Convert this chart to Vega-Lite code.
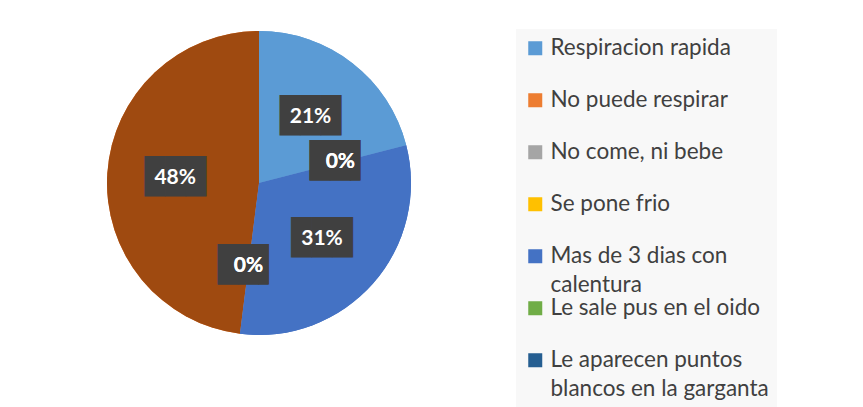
{
  "$schema": "https://vega.github.io/schema/vega-lite/v6.json",
  "width": 518,
  "height": 366,
  "padding": 0,
  "background": "white",
  "config": {"style": {"guide-label": {"lineHeight": 29}}},
  "data": {
    "values": [
      {"causa": "Respiracion rapida", "pct": 0.21, "orden": 1},
      {"causa": "No puede  respirar", "pct": 0.48, "orden": 7},
      {"causa": "No come, ni bebe", "pct": 0, "orden": 2},
      {"causa": "Se pone frio", "pct": 0, "orden": 3},
      {"causa": "Mas de 3 dias con calentura", "pct": 0.31, "orden": 4},
      {"causa": "Le sale pus en el oido", "pct": 0, "orden": 5},
      {"causa": "Le aparecen puntos blancos en la garganta", "pct": 0, "orden": 6}
    ]
  },
  "encoding": {
    "theta": {"field": "pct", "type": "quantitative", "stack": true},
    "order": {"field": "orden", "type": "quantitative"}
  },
  "layer": [
    {
      "mark": {"type": "arc", "outerRadius": 152},
      "encoding": {
        "color": {
          "field": "causa",
          "type": "nominal",
          "sort": null,
          "scale": {
            "domain": ["Respiracion rapida", "No puede  respirar", "No come, ni bebe", "Se pone frio", "Mas de 3 dias con calentura", "Le sale pus en el oido", "Le aparecen puntos blancos en la garganta"],
            "range": ["#5B9BD5", "#ED7D31", "#A5A5A5", "#FFC000", "#4472C4", "#70AD47", "#255E91"]
          },
          "legend": {
            "orient": "none",
            "legendX": 516,
            "legendY": 29,
            "padding": 8,
            "fillColor": "#f8f8f8",
            "title": null,
            "symbolType": "square",
            "symbolSize": 196,
            "symbolStrokeWidth": 0,
            "labelFont": "Lato",
            "labelFontSize": 22.5,
            "labelColor": "#404040",
            "labelOffset": 4,
            "labelLimit": 400,
            "gridAlign": "all",
            "rowPadding": -0.5,
            "labelExpr": "datum.label == 'Mas de 3 dias con calentura' ? ['Mas de 3 dias con', 'calentura'] : datum.label == 'Le aparecen puntos blancos en la garganta' ? ['Le aparecen puntos', 'blancos en la garganta'] : datum.label"
          }
        }
      }
    },
    {
      "mark": {"type": "arc", "outerRadius": 152},
      "encoding": {
        "fill": {
          "field": "causa",
          "type": "nominal",
          "scale": {
            "domain": ["Respiracion rapida", "No puede  respirar", "No come, ni bebe", "Se pone frio", "Mas de 3 dias con calentura", "Le sale pus en el oido", "Le aparecen puntos blancos en la garganta"],
            "range": ["#5B9BD5", "#9F4A10", "#A5A5A5", "#FFC000", "#4472C4", "#70AD47", "#255E91"]
          },
          "legend": null
        }
      }
    },
    {
      "mark": {"type": "text", "radius": 84, "font": "DejaVu Sans Mono", "fontSize": 34, "color": "#404040", "baseline": "middle", "align": "center"},
      "encoding": {
        "text": {"condition": {"test": "datum.pct > 0", "value": "███"}, "value": "██▌"}
      }
    },
    {
      "mark": {"type": "text", "radius": 84, "font": "Lato", "fontWeight": "bold", "fontSize": 21, "color": "white", "baseline": "middle", "align": "center"},
      "encoding": {"text": {"field": "pct", "type": "quantitative", "format": ".0%"}}
    }
  ]
}
